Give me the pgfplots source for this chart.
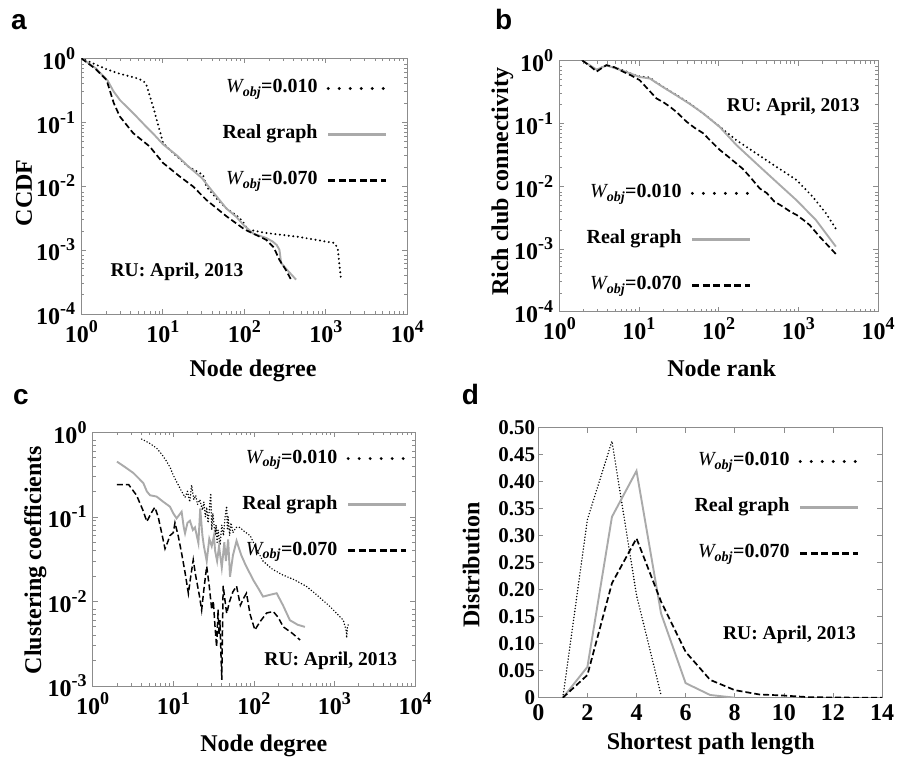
\documentclass[border=0pt]{standalone}
\usepackage{fontspec}
\setmainfont{Liberation Serif}
\newfontfamily\lettfont{Liberation Sans}
\usepackage{pgfplots}
\pgfplotsset{compat=1.18}
\definecolor{realgray}{RGB}{170,170,170}
\definecolor{framegray}{RGB}{140,140,140}
\newcommand{\tp}[1]{10\raisebox{10pt}{\fontsize{18}{18}\selectfont #1}}
\newcommand{\wobj}[1]{{\mdseries\itshape W}\textsubscript{\itshape obj}=#1}
\pgfplotsset{
  every tick label/.append style={font=\fontsize{24}{24}\selectfont\bfseries, inner sep=0pt},
  every x tick label/.append style={yshift=-6pt},
  every y tick label/.append style={xshift=-6pt},
  myax/.style={scale only axis, anchor=south west,
    axis line style={draw=framegray, line width=0.8pt},
    tick style={draw=framegray, line width=0.6pt},
    major tick length=5pt, minor tick length=3pt, tick align=inside,
    legend style={draw=none, fill=none, inner sep=0pt, outer sep=0pt,
      font=\fontsize{20}{24}\selectfont\bfseries, row sep=25pt, column sep=8pt,
      nodes={inner sep=1pt, text height=14pt, text depth=5pt}},
    legend plot pos=right, legend cell align=right,
    legend image code/.code={\draw[##1] (0pt,0pt) -- (58pt,0pt);}},
}
\tikzset{
  mydot/.style={black, line width=2.2pt, line cap=round, dash pattern=on 0pt off 4.5pt},
  mydash/.style={black, line width=1.7pt, dash pattern=on 6pt off 3pt},
  mygray/.style={draw=realgray, line width=1.9pt},
}
\newcommand{\legs}{%
  \addlegendimage{black, line width=3.2pt, line cap=round, dash pattern=on 0pt off 11pt}
  \addlegendentry{\wobj{0.010}}
  \addlegendimage{draw=realgray, line width=3.5pt}
  \addlegendentry{Real graph}
  \addlegendimage{black, line width=2.8pt, dash pattern=on 7pt off 3.5pt}
  \addlegendentry{\wobj{0.070}}}
\begin{document}
\begin{tikzpicture}
\useasboundingbox (0,0) rectangle (902pt,759pt);
% ---------------- a
\begin{axis}[myax, at={(81.3pt,445pt)}, width=326pt, height=255.7pt,
  xmode=log, xmin=1, xmax=10000,
  xtick={1,10,100,1000,10000}, xticklabels={\tp{0},\tp{1},\tp{2},\tp{3},\tp{4}},
  minor xtick={2,3,...,9,20,30,...,90,200,300,...,900,2000,3000,...,9000},
  ymode=log, ymin=1e-4, ymax=1, ytick={1e-4,1e-3,1e-2,1e-1,1},
  yticklabels={\tp{-4},\tp{-3},\tp{-2},\tp{-1},\tp{0}},
  minor ytick={0.0002,0.0003,...,0.0009,0.002,0.003,...,0.009,0.02,0.03,...,0.09,0.2,0.3,...,0.9},
  legend style={at={(0.941,0.923)}, anchor=north east}]
\addplot[mydot, forget plot] coordinates {(1,1)(1.5,0.8)(2,0.68)(3,0.57)(4,0.52)(5,0.48)(5.8,0.44)(6.3,0.38)(7.6,0.176)(10.1,0.047)(13.4,0.033)(20.4,0.0203)(31.2,0.015)(34.2,0.0099)(45,0.0065)(60,0.0045)(80,0.0035)(96,0.0028)(110,0.0021)(185,0.00185)(475,0.0016)(1276,0.00129)(1399,0.00107)(1535,0.000345)};
\addplot[mygray, forget plot] coordinates {(1,1)(1.5,0.7)(2.1,0.45)(2.5,0.3)(3,0.22)(4.35,0.138)(6,0.09)(8,0.062)(10.1,0.045)(15,0.03)(20,0.021)(30,0.0135)(40,0.0085)(50,0.006)(60,0.0045)(80,0.0033)(100,0.0024)(130,0.0018)(185,0.00155)(223,0.00136)(250,0.0012)(270,0.00101)(283,0.00063)(330,0.0005)(432,0.000345)};
\addplot[mydash, forget plot] coordinates {(1,1)(1.5,0.68)(2.04,0.46)(2.5,0.2)(2.97,0.123)(4.33,0.0675)(6.9,0.0417)(10.1,0.023)(16.1,0.0142)(23.5,0.0099)(34.2,0.0061)(60,0.0034)(101,0.0021)(185,0.00145)(230,0.0011)(270,0.0007)(320,0.0005)(375,0.000345)};
\legs
\end{axis}
% ---------------- b
\begin{axis}[myax, at={(559.3pt,447.3pt)}, width=318.7pt, height=251pt,
  xmode=log, xmin=1, xmax=10000,
  xtick={1,10,100,1000,10000}, xticklabels={\tp{0},\tp{1},\tp{2},\tp{3},\tp{4}},
  minor xtick={2,3,...,9,20,30,...,90,200,300,...,900,2000,3000,...,9000},
  ymode=log, ymin=1e-4, ymax=1, ytick={1e-4,1e-3,1e-2,1e-1,1},
  yticklabels={\tp{-4},\tp{-3},\tp{-2},\tp{-1},\tp{0}},
  minor ytick={0.0002,0.0003,...,0.0009,0.002,0.003,...,0.009,0.02,0.03,...,0.09,0.2,0.3,...,0.9},
  legend style={at={(0.605,0.513)}, anchor=north east}]
\addplot[mydot, forget plot] coordinates {(1.96,1)(2.5,0.8)(2.94,0.7)(3.5,0.8)(3.92,0.85)(5,0.78)(6.97,0.67)(8,0.62)(10.2,0.56)(13.7,0.54)(16,0.46)(20,0.385)(29.5,0.284)(43.3,0.208)(63.8,0.145)(103,0.089)(167,0.054)(296,0.0334)(527,0.0205)(946,0.0126)(1515,0.0068)(2220,0.0037)(2960,0.0021)};
\addplot[mygray, forget plot] coordinates {(1.96,1)(2.94,0.72)(3.92,0.84)(6.97,0.66)(10.2,0.55)(13.7,0.52)(20,0.38)(29.5,0.28)(43.3,0.205)(63.8,0.145)(103,0.088)(167,0.0453)(296,0.0231)(527,0.0118)(946,0.006)(1660,0.0029)(2960,0.00109)};
\addplot[mydash, forget plot] coordinates {(1.96,1)(2.5,0.8)(2.94,0.67)(3.5,0.78)(3.92,0.85)(5,0.78)(6.3,0.67)(8,0.58)(10.2,0.49)(13,0.35)(16.6,0.25)(20,0.22)(24.4,0.185)(30,0.15)(39.4,0.107)(50,0.085)(63.8,0.07)(80,0.052)(103,0.038)(130,0.03)(167,0.023)(200,0.019)(246,0.0142)(328,0.0092)(400,0.0078)(500,0.0057)(644,0.0047)(800,0.0039)(946,0.0035)(1200,0.0028)(1390,0.0024)(1850,0.00157)(2960,0.00083)};
\legs
\end{axis}
% ---------------- c
\begin{axis}[myax, at={(92.7pt,73pt)}, width=322.3pt, height=253.7pt,
  xmode=log, xmin=1, xmax=10000,
  xtick={1,10,100,1000,10000}, xticklabels={\tp{0},\tp{1},\tp{2},\tp{3},\tp{4}},
  minor xtick={2,3,...,9,20,30,...,90,200,300,...,900,2000,3000,...,9000},
  ymode=log, ymin=1e-3, ymax=1, ytick={1e-3,1e-2,1e-1,1},
  yticklabels={\tp{-3},\tp{-2},\tp{-1},\tp{0}},
  minor ytick={0.002,0.003,...,0.009,0.02,0.03,...,0.09,0.2,0.3,...,0.9},
  legend style={at={(0.978,0.938)}, anchor=north east}]
\addplot[mydot, line width=1.6pt, dash pattern=on 0pt off 3pt, forget plot] coordinates {(4.06,0.83)(5,0.75)(6.2,0.65)(7.2,0.55)(8.3,0.45)(9.2,0.38)(10,0.31)(11,0.26)(12.7,0.2)(14,0.17)(15,0.2)(16,0.15)(16.9,0.238)(18,0.16)(19,0.18)(20,0.14)(21.4,0.16)(23,0.12)(24,0.15)(25,0.1)(26,0.13)(27,0.085)(28,0.12)(29.2,0.19)(30,0.07)(31,0.11)(33,0.06)(34,0.08)(35,0.05)(36,0.07)(38,0.046)(40,0.08)(42,0.06)(44,0.1)(46,0.134)(47,0.07)(48,0.1)(50,0.06)(52,0.085)(55,0.065)(60,0.075)(67,0.075)(75,0.068)(90,0.06)(110,0.04)(130,0.03)(170,0.024)(230,0.0205)(320,0.018)(452,0.015)(600,0.012)(880,0.0087)(1100,0.007)(1290,0.006)(1400,0.0045)(1420,0.0037)(1450,0.005)(1480,0.0053)};
\addplot[mygray, forget plot] coordinates {(2,0.45)(2.5,0.39)(3.2,0.33)(3.8,0.28)(4.26,0.25)(4.7,0.2)(5.15,0.18)(6.2,0.174)(7.5,0.151)(9.1,0.132)(10,0.11)(11,0.096)(12.7,0.115)(13.5,0.075)(14,0.064)(15,0.085)(16.1,0.09)(17.5,0.07)(18.6,0.075)(20.5,0.049)(21.6,0.126)(23,0.06)(24,0.045)(26,0.03)(28,0.055)(30,0.045)(32,0.06)(33,0.04)(35,0.03)(37,0.045)(40,0.025)(43,0.05)(45,0.03)(48,0.054)(50.6,0.0196)(55,0.035)(61,0.052)(70,0.035)(78,0.0277)(98,0.018)(115,0.014)(130,0.0114)(160,0.012)(192,0.0125)(230,0.009)(280,0.006)(350,0.0053)(430,0.005)};
\addplot[mydash, line width=1.5pt, forget plot] coordinates {(2,0.24)(2.8,0.24)(3.5,0.18)(4.2,0.12)(4.7,0.088)(5.3,0.11)(5.9,0.13)(6.5,0.1)(7.3,0.06)(7.9,0.042)(8.5,0.05)(9.1,0.06)(10,0.065)(10.5,0.085)(11.5,0.06)(12.7,0.037)(14,0.022)(15.4,0.0124)(16.5,0.02)(17.7,0.031)(19,0.02)(21,0.012)(22.5,0.0079)(24,0.014)(26,0.026)(28,0.015)(30,0.008)(31.4,0.0101)(33,0.005)(34.5,0.0029)(36,0.008)(37,0.004)(38,0.006)(39,0.0025)(40,0.00118)(41.6,0.0153)(44,0.01)(46,0.0072)(50,0.01)(55,0.013)(61,0.0152)(68,0.009)(75,0.011)(81,0.0125)(90,0.007)(103,0.0046)(120,0.0058)(144,0.0073)(174,0.0076)(200,0.0065)(232,0.005)(300,0.0042)(375,0.0035)};
\legs
\end{axis}
% ---------------- d
\begin{axis}[myax, at={(538.3pt,61.3pt)}, width=343.7pt, height=270pt,
  xmin=0, xmax=14, ymin=0, ymax=0.5, xtick={0,2,...,14},
  ytick={0,0.05,0.10,0.15,0.20,0.25,0.30,0.35,0.40,0.45,0.50},
  yticklabels={0,0.05,0.10,0.15,0.20,0.25,0.30,0.35,0.40,0.45,0.50},
  xticklabels={0,2,4,6,8,10,12,14},
  yticklabel style={font=\fontsize{21}{21}\selectfont\bfseries, xshift=3pt},
  xticklabel style={yshift=-1pt},
  legend style={at={(0.936,0.914)}, anchor=north east}]
\addplot[mydot, line width=1.6pt, dash pattern=on 0pt off 3pt, forget plot] coordinates {(1,0)(2,0.33)(3,0.475)(4,0.19)(5,0.005)};
\addplot[mygray, forget plot] coordinates {(1,0)(2,0.057)(3,0.335)(4,0.42)(5,0.156)(6,0.027)(7,0.005)(8,0)};
\addplot[mydash, forget plot] coordinates {(1,0)(2,0.042)(3,0.212)(4,0.295)(5,0.178)(6,0.085)(7,0.033)(8,0.014)(9,0.006)(10,0.004)(11,0.001)(12,0.0005)(13,0)(14,0)};
\legs
\end{axis}
% ---------------- labels
\tikzset{lab/.style={font=\fontsize{24}{28}\selectfont\bfseries, anchor=base, inner sep=0pt},
  ru/.style={font=\fontsize{19.5}{24}\selectfont\bfseries, anchor=base, inner sep=0pt},
  let/.style={font=\lettfont\fontsize{28}{30}\selectfont\bfseries, anchor=base west, inner sep=0pt}}
\node[let] at (11pt,729pt) {a};
\node[let] at (495pt,729pt) {b};
\node[let] at (13pt,354pt) {c};
\node[let] at (461.7pt,354pt) {d};
\node[lab] at (253pt,382pt) {Node degree};
\node[lab] at (721.7pt,382pt) {Node rank};
\node[lab] at (263.8pt,7.3pt) {Node degree};
\node[lab] at (710.8pt,9pt) {Shortest path length};
\node[lab, rotate=90] at (32pt,566pt) {CCDF};
\node[lab, rotate=90] at (508pt,577.3pt) {Rich club connectivity};
\node[lab, rotate=90] at (41pt,199pt) {Clustering coefficients};
\node[lab, rotate=90] at (479.3pt,194pt) {Distribution};
\node[ru] at (177pt,482.3pt) {RU: April, 2013};
\node[ru] at (793.3pt,647.3pt) {RU: April, 2013};
\node[ru] at (330.8pt,93pt) {RU: April, 2013};
\node[ru] at (789.5pt,119.7pt) {RU: April, 2013};
\end{tikzpicture}
\end{document}
